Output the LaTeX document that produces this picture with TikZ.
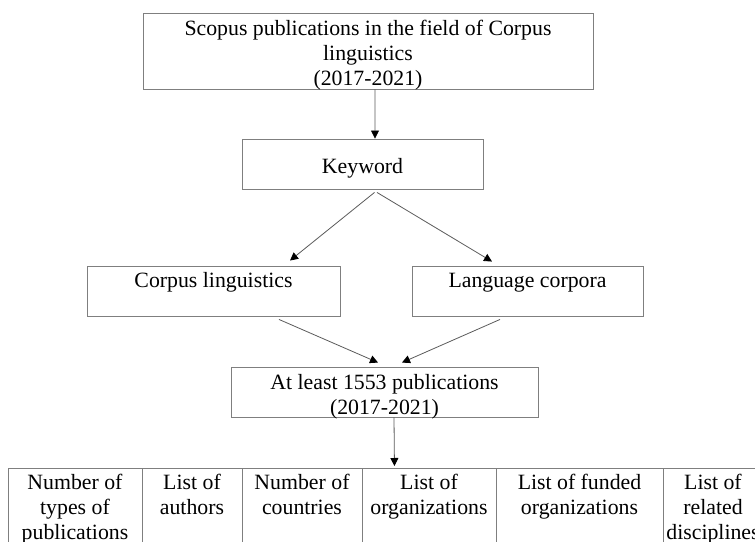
\documentclass[tikz,border=0pt]{standalone}
\usepackage{fontspec}
\setmainfont{Liberation Serif}
\usetikzlibrary{arrows.meta,calc}
\definecolor{boxgray}{HTML}{7F7F7F}
\definecolor{linegray}{HTML}{5A5A5A}
\newcommand{\dnlines}[1]{\raisebox{-4.5bp}[\height][\depth]{\begin{tabular}{@{}c@{}}#1\end{tabular}}}
\begin{document}
\begin{tikzpicture}[x=1bp,y=-1bp,
  box/.style={draw=boxgray,line width=0.9bp,inner sep=0pt,
    font=\fontsize{21.8bp}{25bp}\selectfont},
  cell/.style={draw=boxgray,line width=0.9bp},
  celltext/.style={anchor=north,inner sep=0pt,align=center,
    font=\fontsize{21.8bp}{25bp}\selectfont},
  conn/.style={draw=linegray,line width=0.8bp,-{Triangle[length=8bp,width=8bp,color=black]}}]
\useasboundingbox (0,0) rectangle (755,542);
\clip (0,0) rectangle (755,542);

\node[box,minimum width=450bp,minimum height=76bp] (top) at (368,51)
  {\dnlines{Scopus publications in the field of Corpus\\linguistics\\(2017-2021)}};
\node[box,minimum width=241bp,minimum height=50bp] (kw) at (362.5,164) {\dnlines{Keyword}};
\node[box,minimum width=253bp,minimum height=50bp] (corp) at (213.5,291)
  {\dnlines{Corpus linguistics\\\strut}};
\node[box,minimum width=231bp,minimum height=50bp] (lang) at (527.5,291)
  {\dnlines{Language corpora\\\strut}};
\node[box,minimum width=307bp,minimum height=50bp] (atl) at (384.5,392)
  {\dnlines{At least 1553 publications\\(2017-2021)}};

% table
\node[cell,minimum width=134bp,minimum height=120bp,anchor=north west] (c1) at (8,468) {};
\node[cell,minimum width=100bp,minimum height=120bp,anchor=north west] (c2) at (142,468) {};
\node[cell,minimum width=120bp,minimum height=120bp,anchor=north west] (c3) at (242,468) {};
\node[cell,minimum width=134bp,minimum height=120bp,anchor=north west] (c4) at (362,468) {};
\node[cell,minimum width=167bp,minimum height=120bp,anchor=north west] (c5) at (496,468) {};
\node[cell,minimum width=100bp,minimum height=120bp,anchor=north west] (c6) at (663,468) {};

\node[celltext] (t1) at (75,474) {Number of\\types of\\publications};
\node[celltext] (t2) at (192,474) {List of\\authors};
\node[celltext] (t3) at (302,474) {Number of\\countries};
\node[celltext] (t4) at (429,474) {List of\\organizations};
\node[celltext] (t5) at (579.5,474) {List of funded\\organizations};
\node[celltext] (t6) at (713,474) {List of\\related\\disciplines};

% connectors
\draw[conn] ($(top.south)+(7,0)$) -- ($(kw.north)+(12.5,0)$);
\draw[conn] ($(kw.south)+(12,3)$) -- ($(corp.north)+(76.5,-5)$);
\draw[conn] ($(kw.south)+(14.5,3)$) -- ($(lang.north)+(-35.5,-4)$);
\draw[conn] ($(corp.south)+(65.5,3)$) -- ($(atl.north)+(-6.5,-4)$);
\draw[conn] ($(lang.south)+(-27.5,3)$) -- ($(atl.north)+(17.5,-4)$);
\draw[conn] ($(atl.south)+(9.5,0)$) -- ($(c4.north)+(-35,-2)$);
\end{tikzpicture}
\end{document}
